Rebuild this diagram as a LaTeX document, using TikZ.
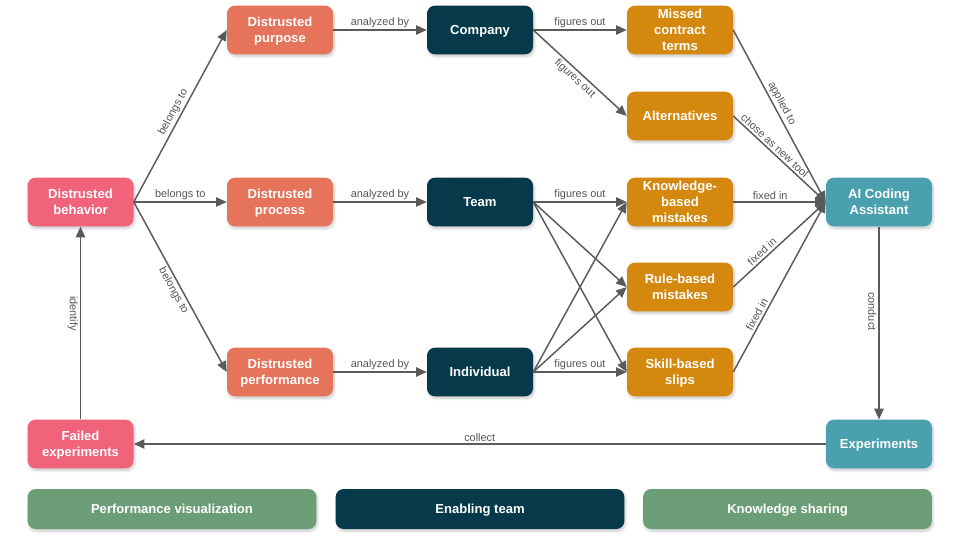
\documentclass[tikz,border=0pt]{standalone}
\usepackage{fontspec}
\setmainfont{Liberation Sans}
\usetikzlibrary{arrows.meta,shadows.blur}
\definecolor{pinkc}{HTML}{F0637B}
\definecolor{salmonc}{HTML}{E6745B}
\definecolor{darkc}{HTML}{063A4B}
\definecolor{goldc}{HTML}{D5880E}
\definecolor{tealc}{HTML}{4AA0AE}
\definecolor{greenc}{HTML}{6B9E77}
\definecolor{edgec}{HTML}{5A5A5A}
\definecolor{lblc}{HTML}{555555}
\begin{document}
\begin{tikzpicture}[x=0.75pt,y=-0.75pt,
 card/.style={rounded corners=6pt,minimum width=79.5pt,minimum height=36.5pt,inner sep=0pt,
   align=center,text=white,text depth=0pt,font=\fontsize{9.8}{12}\selectfont\bfseries,
   blur shadow={shadow xshift=0.8pt,shadow yshift=-1.5pt,shadow blur steps=6,shadow opacity=22}},
 bar/.style={card,minimum width=216.5pt,minimum height=30pt},
 arr/.style={draw=edgec,line width=1.1pt,-{Triangle[length=8pt,width=7pt]}},
 rarr/.style={draw=edgec,line width=1.1pt,{Triangle[length=8pt,width=7pt]}-},
 lbl/.style={text=lblc,font=\fontsize{8.2}{9}\selectfont,inner sep=1.5pt}]
 \useasboundingbox (0,0) rectangle (960,540);
 \node[card,fill=pinkc] (beh) at (80.5,202) {Distrusted\\behavior};
 \node[card,fill=pinkc] (failed) at (80.5,444) {Failed\\experiments};
 \node[card,fill=salmonc] (pur) at (280,30) {Distrusted\\purpose};
 \node[card,fill=salmonc] (proc) at (280,202) {Distrusted\\process};
 \node[card,fill=salmonc] (perf) at (280,372) {Distrusted\\performance};
 \node[card,fill=darkc] (comp) at (480,30) {Company};
 \node[card,fill=darkc] (team) at (480,202) {Team};
 \node[card,fill=darkc] (indiv) at (480,372) {Individual};
 \node[card,fill=goldc] (missed) at (680,30) {Missed\\contract\\terms};
 \node[card,fill=goldc] (alt) at (680,116) {Alternatives};
 \node[card,fill=goldc] (know) at (680,202) {Knowledge-\\based\\mistakes};
 \node[card,fill=goldc] (rule) at (680,287) {Rule-based\\mistakes};
 \node[card,fill=goldc] (skill) at (680,372) {Skill-based\\slips};
 \node[card,fill=tealc] (ai) at (879,202) {AI Coding\\Assistant};
 \node[card,fill=tealc] (expt) at (879,444) {Experiments};
 \node[bar,fill=greenc] (viz) at (172,509) {Performance visualization};
 \node[bar,fill=darkc] (enab) at (480,509) {Enabling team};
 \node[bar,fill=greenc] (share) at (787.5,509) {Knowledge sharing};

 \draw[arr] (beh.east) -- node[lbl,sloped,above] {belongs to} (pur.west);
 \draw[arr] (beh.east) -- node[lbl,above] {belongs to} (proc.west);
 \draw[arr] (beh.east) -- node[lbl,sloped,below] {belongs to} (perf.west);
 \draw[arr] (pur) -- node[lbl,above] {analyzed by} (comp);
 \draw[arr] (proc) -- node[lbl,above] {analyzed by} (team);
 \draw[arr] (perf) -- node[lbl,above] {analyzed by} (indiv);
 \draw[arr] (comp.east) -- node[lbl,above] {figures out} (missed.west);
 \draw[arr] (comp.east) -- node[lbl,sloped,below] {figures out} (alt.west);
 \draw[arr] (team.east) -- node[lbl,above] {figures out} (know.west);
 \draw[arr] (team.east) -- (rule.west);
 \draw[arr] (team.east) -- (skill.west);
 \draw[arr] (indiv.east) -- (know.west);
 \draw[arr] (indiv.east) -- (rule.west);
 \draw[arr] (indiv.east) -- node[lbl,above] {figures out} (skill.west);
 \draw[arr] (missed.east) -- node[lbl,sloped,above,pos=0.45] {applied to} (ai.west);
 \draw[arr] (alt.east) -- node[lbl,sloped,above,pos=0.4] {chose as new tool} (ai.west);
 \draw[arr] (know.east) -- node[lbl,above,pos=0.4] {fixed in} (ai.west);
 \draw[arr] (rule.east) -- node[lbl,sloped,above,pos=0.36] {fixed in} (ai.west);
 \draw[arr] (skill.east) -- node[lbl,sloped,above,pos=0.32] {fixed in} (ai.west);
 \draw[arr] (ai) -- node[lbl,sloped,below,pos=0.44] {conduct} (expt);
 \draw[arr] (expt) -- node[lbl,above] {collect} (failed);
 \draw[rarr] (beh) -- node[lbl,sloped,below,pos=0.45] {identify} (failed);
\end{tikzpicture}
\end{document}
